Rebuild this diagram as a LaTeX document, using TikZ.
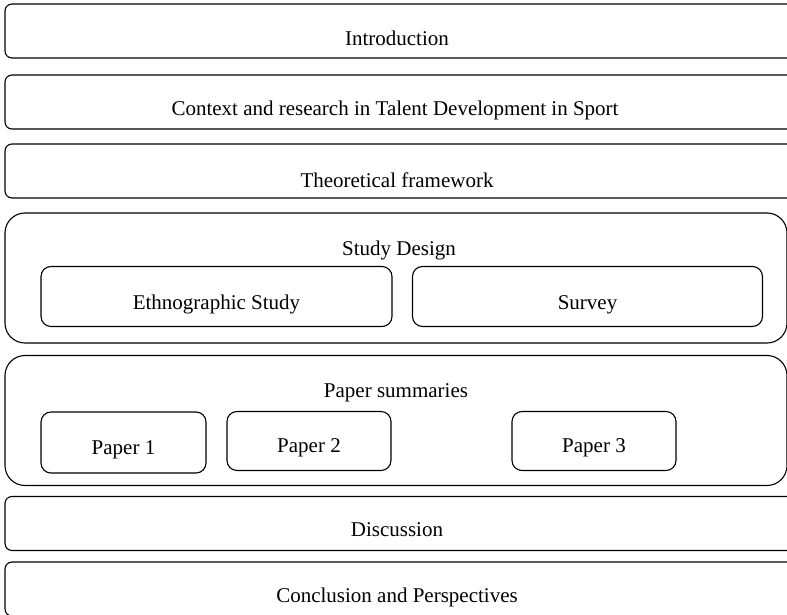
\documentclass[tikz,border=0pt]{standalone}
\usepackage{fontspec}
\setmainfont{Liberation Serif}
\usetikzlibrary{positioning}

\begin{document}
\begin{tikzpicture}[x=1pt,y=-1pt,
    font=\fontsize{21}{25}\selectfont,
    part/.style={draw,line width=1.1pt,rounded corners=7pt,minimum width=820pt,minimum height=54pt,inner sep=0pt},
    group/.style={draw,line width=1.1pt,rounded corners=20pt,minimum width=782pt,minimum height=130pt,inner sep=0pt},
    sub/.style={draw,line width=1.1pt,rounded corners=10pt,minimum height=60pt,inner sep=0pt,text height=23pt,text depth=0pt}]
\useasboundingbox (0,0) rectangle (787,615);
\clip (0,0) rectangle (787,615);

\node[part] (intro) at (415,31) {};
\node (intro_t) at (397,38) {Introduction};
\node[part] (context) at (415,102) {};
\node (context_t) at (395,110) {Context and research in Talent Development in Sport};
\node[part] (theory) at (415,171) {};
\node (theory_t) at (397,180) {Theoretical framework};

\node[group] (design) at (396,278) {};
\node (design_t) at (399,250) {Study Design};
\node[sub,minimum width=351pt,text height=26pt] (ethno) at (216.5,296.5) {Ethnographic Study};
\node[sub,minimum width=350pt,text height=26pt] (survey) at (587.5,296.5) {Survey};

\node[group] (papers) at (396,420.5) {};
\node (papers_t) at (396,393) {Paper summaries};
\node[sub,minimum width=165pt,minimum height=61pt] (p1) at (123.5,442.5) {Paper 1};
\node[sub,minimum width=164pt,minimum height=59pt] (p2) at (309,441) {Paper 2};
\node[sub,minimum width=164pt,minimum height=59pt] (p3) at (594,441) {Paper 3};

\node[part] (discussion) at (415,523.5) {};
\node (discussion_t) at (397,530) {Discussion};
\node[part] (conclusion) at (415,589) {};
\node (conclusion_t) at (397,597) {Conclusion and Perspectives};
\end{tikzpicture}
\end{document}
